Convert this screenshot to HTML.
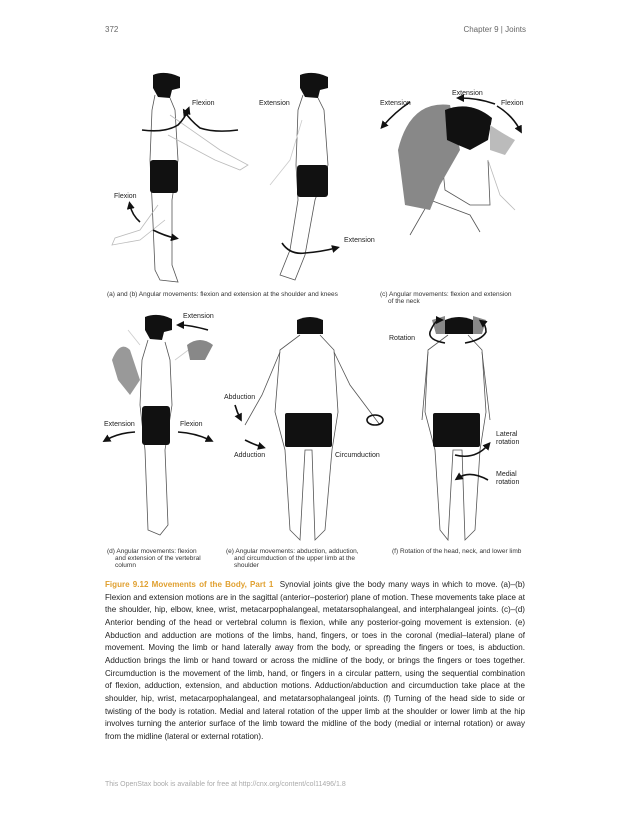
<!DOCTYPE html>
<html><head><meta charset="utf-8"><style>
body{margin:0;background:#fff;}
#p{position:relative;width:630px;height:815px;overflow:hidden;font-family:"Liberation Sans",sans-serif;}
.hd{position:absolute;top:25px;font-size:8px;color:#666;}
.t{position:absolute;left:105px;width:420px;font-size:8.05px;line-height:12.65px;color:#222;top:579px;}
.t div{text-align:justify;text-align-last:justify;white-space:nowrap;overflow:visible;}
.t div.l{text-align-last:left;}
.o{color:#e0a030;font-weight:bold;}
svg{position:absolute;left:0;top:0;}
.ft{position:absolute;left:105px;top:781px;font-size:7px;color:#aaa;}
</style></head><body><div id="p">
<div class="hd" style="left:105px">372</div>
<div class="hd" style="right:104px">Chapter 9 | Joints</div>
<svg width="630" height="815" font-family="Liberation Sans, sans-serif" font-size="7" fill="#222">
<defs><marker id="a" viewBox="0 0 10 10" refX="5" refY="5" markerWidth="5" markerHeight="5" orient="auto"><path d="M0,0L10,5L0,10z" fill="#111"/></marker></defs>
<g fill="none" stroke="#555" stroke-width="0.8">
<path d="M155,95 L152,110 150,160 152,200 155,270 160,280 178,282 172,265 172,200 178,160 175,110 170,98"/>
<path d="M170,115 L220,150 248,165 240,170 215,160 168,135" stroke="#bbb"/>
<path d="M158,205 L140,230 115,238 112,245 140,240 165,220" stroke="#bbb"/>
<path d="M303,95 L298,110 296,165 298,200 290,250 280,275 295,280 305,255 315,200 328,165 324,110 318,98"/>
<path d="M302,120 L290,160 270,185" stroke="#ccc"/>
<path d="M148,340 L142,360 140,405 145,450 148,530 160,535 168,525 165,450 172,405 170,360 165,342"/>
<path d="M140,345 L128,330 M175,360 L195,345" stroke="#ccc"/>
<path d="M300,335 L280,350 275,412 285,450 290,530 300,540 305,450 312,450 315,540 325,530 332,450 338,412 334,350 320,335"/>
<path d="M280,352 L262,395 245,425 M334,352 L350,385 380,425"/>
<path d="M448,335 L428,350 425,412 435,450 440,530 448,540 453,450 462,450 465,540 475,530 480,450 486,412 482,350 468,335"/>
<path d="M428,352 L422,420 M482,352 L490,420"/>
<path d="M440,140 L445,190 470,205 490,205 488,160" />
<path d="M410,235 L430,200 470,215 480,232"/>
<path d="M488,160 L500,195 515,210" stroke="#bbb"/>
</g>
<path d="M153,75 Q165,70 180,77 L180,88 172,90 170,98 158,97 153,88z" fill="#111"/>
<path d="M300,75 Q313,70 328,77 L328,88 320,90 318,98 305,97 300,88z" fill="#111"/>
<path d="M145,317 Q158,312 172,319 L172,330 164,332 162,340 150,339 145,330z" fill="#111"/>
<path d="M297,320 Q310,314 323,320 L323,334 297,334z" fill="#111"/>
<path d="M445,320 Q459,314 473,320 L473,334 445,334z" fill="#111"/>
<path d="M432,320 L445,316 445,334 436,334z M473,316 L486,320 482,334 473,334z" fill="#888"/>
<path d="M398,150 Q410,100 450,105 L460,150 440,185 430,210 405,205z" fill="#888"/>
<path d="M445,110 Q470,100 492,118 L488,140 470,150 458,145 447,140z" fill="#111"/>
<path d="M490,125 Q505,135 515,140 L505,155 490,150z" fill="#bbb"/>
<path d="M112,360 Q120,340 130,350 L140,380 130,395 118,380z" fill="#999"/>
<path d="M187,345 Q200,335 213,345 L205,360 190,360z" fill="#888"/>
<rect x="150" y="160" width="28" height="33" rx="3" fill="#111"/>
<rect x="297" y="165" width="31" height="32" rx="3" fill="#111"/>
<rect x="142" y="406" width="28" height="39" rx="3" fill="#111"/>
<rect x="285" y="413" width="47" height="34" rx="2" fill="#111"/>
<rect x="433" y="413" width="47" height="34" rx="2" fill="#111"/>
<g fill="none" stroke="#111" stroke-width="1.6" marker-end="url(#a)">
<path d="M142,130 Q165,133 178,125 Q185,118 188,110"/>
<path d="M238,130 Q215,133 200,128 Q190,120 185,112"/>
<path d="M153,230 Q165,236 175,238"/><path d="M140,222 Q132,215 130,205"/>
<path d="M282,243 Q290,255 305,253 Q320,252 336,248"/>
<path d="M410,102 Q395,112 383,126"/><path d="M495,104 Q478,98 460,98"/><path d="M497,106 Q512,115 520,130"/>
<path d="M208,330 Q190,325 180,325"/>
<path d="M135,432 Q118,433 106,440"/><path d="M178,432 Q195,433 210,440"/>
<path d="M235,405 Q237,412 240,418"/><path d="M245,440 Q255,445 262,447"/>
<path d="M445,343 Q428,340 430,332 Q435,320 440,320"/><path d="M465,343 Q482,340 486,332 Q486,325 482,322"/>
<path d="M455,455 Q475,460 488,445"/><path d="M488,480 Q470,470 458,478"/>
</g>
<ellipse cx="375" cy="420" rx="8" ry="5" fill="none" stroke="#111" stroke-width="1.6"/>
<text x="192" y="105">Flexion</text><text x="259" y="105">Extension</text>
<text x="114" y="198">Flexion</text><text x="344" y="242">Extension</text>
<text x="380" y="105">Extension</text><text x="452" y="95">Extension</text><text x="501" y="105">Flexion</text>
<text x="183" y="318">Extension</text><text x="104" y="426">Extension</text><text x="180" y="426">Flexion</text>
<text x="224" y="399">Abduction</text><text x="234" y="457">Adduction</text><text x="335" y="457">Circumduction</text>
<text x="389" y="340">Rotation</text><text x="496" y="436">Lateral</text><text x="496" y="444">rotation</text>
<text x="496" y="476">Medial</text><text x="496" y="484">rotation</text>
<g font-size="6.5" fill="#333">
<text x="107" y="296">(a) and (b) Angular movements: flexion and extension at the shoulder and knees</text>
<text x="380" y="296">(c) Angular movements: flexion and extension</text><text x="388" y="303">of the neck</text>
<text x="107" y="553">(d) Angular movements: flexion</text><text x="115" y="560">and extension of the vertebral</text><text x="115" y="567">column</text>
<text x="226" y="553">(e) Angular movements: abduction, adduction,</text><text x="234" y="560">and circumduction of the upper limb at the</text><text x="234" y="567">shoulder</text>
<text x="392" y="553">(f) Rotation of the head, neck, and lower limb</text>
</g>
</svg>
<div class="t">
<div><span class="o">Figure 9.12 Movements of the Body, Part 1</span>&nbsp; Synovial joints give the body many ways in which to move. (a)–(b)</div>
<div>Flexion and extension motions are in the sagittal (anterior–posterior) plane of motion. These movements take place at</div>
<div>the shoulder, hip, elbow, knee, wrist, metacarpophalangeal, metatarsophalangeal, and interphalangeal joints. (c)–(d)</div>
<div>Anterior bending of the head or vertebral column is flexion, while any posterior-going movement is extension. (e)</div>
<div>Abduction and adduction are motions of the limbs, hand, fingers, or toes in the coronal (medial–lateral) plane of</div>
<div>movement. Moving the limb or hand laterally away from the body, or spreading the fingers or toes, is abduction.</div>
<div>Adduction brings the limb or hand toward or across the midline of the body, or brings the fingers or toes together.</div>
<div>Circumduction is the movement of the limb, hand, or fingers in a circular pattern, using the sequential combination</div>
<div>of flexion, adduction, extension, and abduction motions. Adduction/abduction and circumduction take place at the</div>
<div>shoulder, hip, wrist, metacarpophalangeal, and metatarsophalangeal joints. (f) Turning of the head side to side or</div>
<div>twisting of the body is rotation. Medial and lateral rotation of the upper limb at the shoulder or lower limb at the hip</div>
<div>involves turning the anterior surface of the limb toward the midline of the body (medial or internal rotation) or away</div>
<div class="l">from the midline (lateral or external rotation).</div>
</div>
<div class="ft">This OpenStax book is available for free at http://cnx.org/content/col11496/1.8</div>
</div></body></html>
